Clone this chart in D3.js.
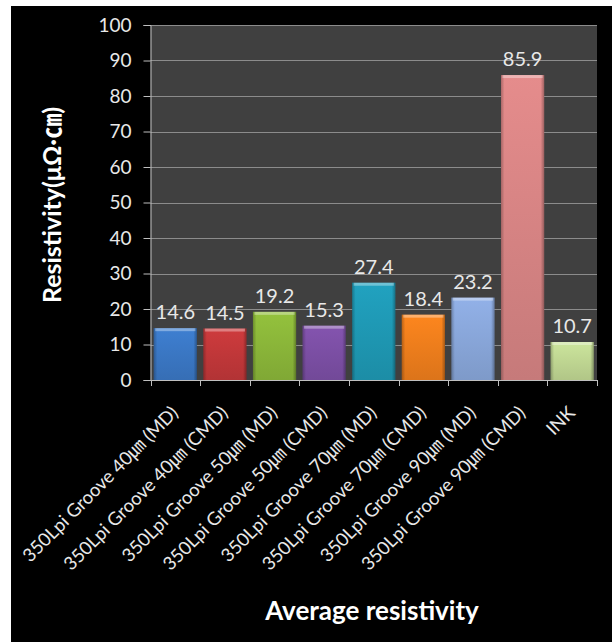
<!DOCTYPE html>
<html>
<head>
<meta charset="utf-8">
<script src="https://cdn.jsdelivr.net/npm/d3@7"></script>
<style>
  html, body { margin: 0; padding: 0; background: #ffffff; }
  svg { display: block; }
  text { font-family: Lato, "Noto Sans CJK JP", "Noto Sans", sans-serif; }
</style>
</head>
<body>
<svg id="chart" width="612" height="642"></svg>
<script>
// Average resistivity per printing condition
const categories = [
  "350Lpi Groove 40㎛ (MD)",
  "350Lpi Groove 40㎛ (CMD)",
  "350Lpi Groove 50㎛ (MD)",
  "350Lpi Groove 50㎛ (CMD)",
  "350Lpi Groove 70㎛ (MD)",
  "350Lpi Groove 70㎛ (CMD)",
  "350Lpi Groove 90㎛ (MD)",
  "350Lpi Groove 90㎛ (CMD)",
  "INK"
];
const resistivity = [14.6, 14.5, 19.2, 15.3, 27.4, 18.4, 23.2, 85.9, 10.7];
const barColors = ["#3b78c6", "#c3383a", "#8cb83a", "#7d50a6", "#1f9ab6",
                   "#f07f1c", "#8aa8dc", "#d98585", "#c1d994"];
const yTicks = [0, 10, 20, 30, 40, 50, 60, 70, 80, 90, 100];
const xTitle = "Average resistivity";
const yTitle = "Resistivity(μΩ·㎝)";

const svg = d3.select("#chart");
const plot = { left: 150.5, right: 597, top: 25, bottom: 380 };

// dark canvas behind the whole chart
svg.append("rect").attr("x", 11).attr("y", 6).attr("width", 601).attr("height", 636).attr("fill", "#000");

const x = d3.scaleBand().domain(categories).range([plot.left, plot.right])
  .paddingInner(0.13).paddingOuter(0.065);
const y = d3.scaleLinear().domain([0, 100]).range([plot.bottom, plot.top]);

// plot area background
svg.append("rect")
  .attr("x", plot.left).attr("y", plot.top)
  .attr("width", plot.right - plot.left).attr("height", plot.bottom - plot.top)
  .attr("fill", "#404040");

// horizontal gridlines
svg.append("g").selectAll("line").data(yTicks.filter(d => d > 0)).join("line")
  .attr("x1", plot.left).attr("x2", plot.right)
  .attr("y1", d => Math.round(y(d)) + 0.5).attr("y2", d => Math.round(y(d)) + 0.5)
  .attr("stroke", "#8c8c8c").attr("stroke-width", 1);

// gradients for the bevelled bars
const defs = svg.append("defs");
barColors.forEach((c, i) => {
  const g = defs.append("linearGradient").attr("id", "bar" + i)
    .attr("x1", 0).attr("x2", 0).attr("y1", 0).attr("y2", 1);
  g.append("stop").attr("offset", "0%").attr("stop-color", d3.color(c).brighter(0.15));
  g.append("stop").attr("offset", "100%").attr("stop-color", d3.color(c).darker(0.25));
});
const side = defs.append("linearGradient").attr("id", "side")
  .attr("x1", 0).attr("x2", 1).attr("y1", 0).attr("y2", 0);
side.append("stop").attr("offset", "0%").attr("stop-color", "#000").attr("stop-opacity", 0.25);
side.append("stop").attr("offset", "8%").attr("stop-color", "#000").attr("stop-opacity", 0);
side.append("stop").attr("offset", "92%").attr("stop-color", "#000").attr("stop-opacity", 0);
side.append("stop").attr("offset", "100%").attr("stop-color", "#000").attr("stop-opacity", 0.3);

const bars = svg.append("g").selectAll("g").data(categories).join("g");
bars.append("rect")
  .attr("x", d => x(d)).attr("width", x.bandwidth())
  .attr("y", (d, i) => y(resistivity[i]))
  .attr("height", (d, i) => y(0) - y(resistivity[i]))
  .attr("fill", (d, i) => `url(#bar${i})`);
bars.append("rect")
  .attr("x", d => x(d)).attr("width", x.bandwidth())
  .attr("y", (d, i) => y(resistivity[i]))
  .attr("height", (d, i) => y(0) - y(resistivity[i]))
  .attr("fill", "url(#side)");
// highlight strip along each bar top
bars.append("rect")
  .attr("x", d => x(d) + 1.5).attr("width", x.bandwidth() - 3)
  .attr("y", (d, i) => y(resistivity[i]))
  .attr("height", 3)
  .attr("fill", "#fff").attr("opacity", 0.35);

// value labels
svg.append("g").selectAll("text").data(categories).join("text")
  .attr("x", d => x(d) + x.bandwidth() / 2)
  .attr("y", (d, i) => y(resistivity[i]) - 9)
  .attr("text-anchor", "middle")
  .attr("font-size", 20).attr("fill", "#e8e8e8")
  .text((d, i) => resistivity[i].toFixed(1));

// y axis
const yAxis = svg.append("g").attr("transform", `translate(${plot.left},0)`)
  .call(d3.axisLeft(y).tickValues(yTicks).tickSize(7).tickPadding(12));
yAxis.select(".domain").attr("stroke", "#bfbfbf");
yAxis.selectAll(".tick line").attr("stroke", "#bfbfbf");
yAxis.selectAll(".tick text").attr("font-size", 19).attr("fill", "#e8e8e8")
  .attr("font-family", "Lato, sans-serif");

// x axis
const xAxis = svg.append("g").attr("transform", `translate(0,${plot.bottom})`)
  .call(d3.axisBottom(x).tickSize(0).tickFormat(""));
xAxis.select(".domain").attr("stroke", "#bfbfbf");
const bounds = categories.map(d => x(d) - x.step() * x.paddingInner() / 2)
  .concat([plot.right]);
svg.append("g").selectAll("line").data(bounds).join("line")
  .attr("x1", d => Math.round(d) + 0.5).attr("x2", d => Math.round(d) + 0.5)
  .attr("y1", plot.bottom).attr("y2", plot.bottom + 6)
  .attr("stroke", "#bfbfbf");

// rotated category labels
svg.append("g").selectAll("text").data(categories).join("text")
  .attr("transform", d => `translate(${x(d) + x.bandwidth() / 2 + 4},${plot.bottom + 34}) rotate(-45)`)
  .attr("text-anchor", "end")
  .attr("font-size", 18.5).attr("fill", "#e8e8e8")
  .text(d => d);

// axis titles
svg.append("text")
  .attr("x", 372).attr("y", 620)
  .attr("text-anchor", "middle")
  .attr("font-size", 26).attr("font-weight", "bold").attr("fill", "#fff")
  .text(xTitle);
svg.append("text")
  .attr("transform", "translate(61,205) rotate(-90)")
  .attr("text-anchor", "middle")
  .attr("font-size", 25).attr("font-weight", "bold").attr("fill", "#fff")
  .text(yTitle);
</script>
</body>
</html>
